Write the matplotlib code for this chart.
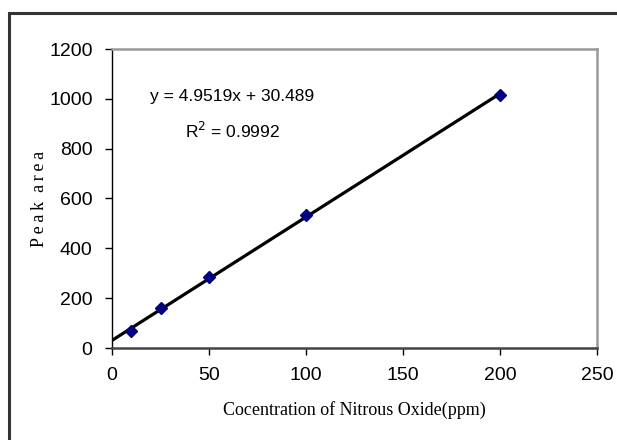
import numpy as np
import matplotlib.pyplot as plt
from matplotlib.patches import Rectangle

conc = [10, 25, 50, 100, 200]
area = [68, 162, 284, 535, 1015]
slope = 4.9519
intercept = 30.489
x_ticks = [0, 50, 100, 150, 200, 250]
y_ticks = [0, 200, 400, 600, 800, 1000, 1200]

sans = ['Liberation Sans', 'DejaVu Sans']
serif = ['Liberation Serif', 'DejaVu Serif']

fig = plt.figure(figsize=(6.17, 4.40), dpi=100)
ax = fig.add_axes([112/617, 92/440, 485/617, 299/440])

# outer frame (only top/left visible)
fig.patches.append(Rectangle((8.5/617, -0.1), 1.2, (440-13.5)/440 + 0.1,
                             transform=fig.transFigure, fill=False,
                             edgecolor='#333333', linewidth=2.2, clip_on=False))

xs = np.array([0, 200])
ax.plot(xs, slope*xs + intercept, color='black', lw=2.3, zorder=2)
ax.plot(conc, area, linestyle='none', marker='D', markersize=6,
        color='#000080', zorder=3)

ax.set_xlim(0, 250)
ax.set_ylim(0, 1200)
ax.set_xticks(x_ticks)
ax.set_yticks(y_ticks)
ax.tick_params(direction='out', length=5, width=1, pad=9, labelsize=14)
for lab in ax.get_xticklabels() + ax.get_yticklabels():
    lab.set_family(sans)

ax.spines['top'].set_color('#999999')
ax.spines['right'].set_color('#999999')
ax.spines['top'].set_linewidth(1.8)
ax.spines['right'].set_linewidth(1.8)
ax.spines['left'].set_color('black')
ax.spines['left'].set_linewidth(1)
ax.spines['bottom'].set_color('#444444')
ax.spines['bottom'].set_linewidth(1.8)

ax.set_xlabel('Cocentration of Nitrous Oxide(ppm)', family=serif,
              fontsize=13, labelpad=12)
ax.set_ylabel('P\u2009e\u2009a\u2009k  a\u2009r\u2009e\u2009a', family=serif,
              fontsize=13, labelpad=1)

ax.text(62, 1008, 'y = 4.9519x + 30.489', ha='center', va='center',
        family=sans, fontsize=12.5)
ax.text(62, 872, r'R$^2$ = 0.9992', ha='center', va='center',
        family=sans, fontsize=12.5)

fig.savefig('out.png', dpi=100)
